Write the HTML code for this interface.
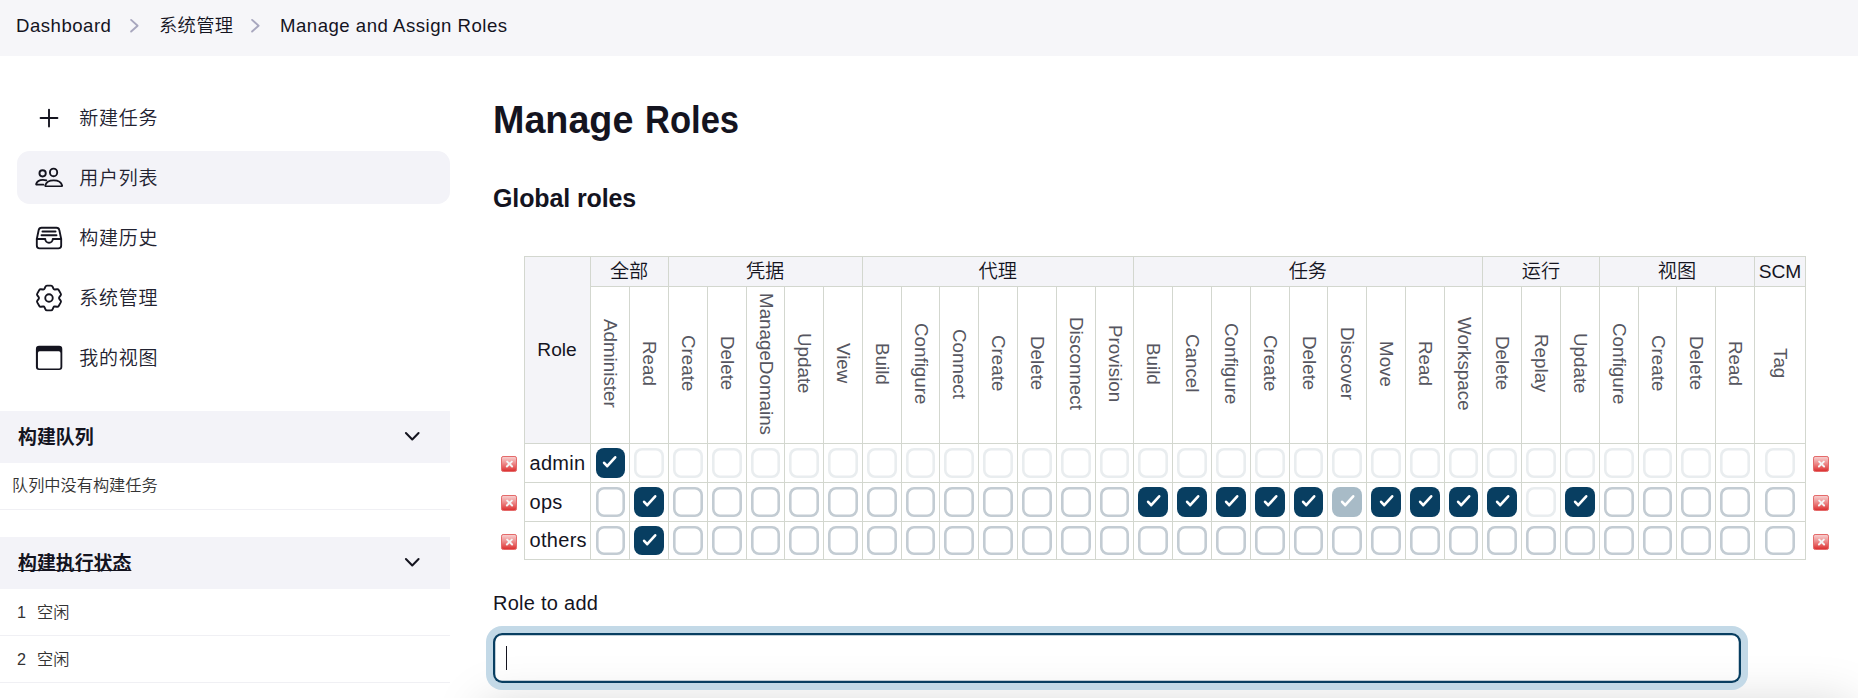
<!DOCTYPE html>
<html lang="zh-CN">
<head>
<meta charset="utf-8">
<title>Manage and Assign Roles</title>
<style>
*{box-sizing:border-box}
html,body{margin:0;padding:0}
body{width:1858px;height:698px;overflow:hidden;background:#fff;color:#14141f;
  font-family:"Liberation Sans","Noto Sans CJK SC",sans-serif;font-size:20px;font-weight:350;position:relative}
a{color:inherit;text-decoration:none}
svg{display:block}
/* breadcrumbs */
#crumbs{position:absolute;left:0;top:0;width:1858px;height:56px;background:#f6f6f9}
#crumbs span{position:absolute;top:0;height:52px;line-height:52px;font-size:18.6px;letter-spacing:.5px;white-space:nowrap;color:#14141f}
#crumbs span.zh{font-size:18.3px;letter-spacing:.3px;line-height:51px}
#crumbs svg{position:absolute;top:16.6px;width:17px;height:17px;stroke:#a8a7be;fill:none;stroke-width:1.9;stroke-linecap:round;stroke-linejoin:round}
/* side panel */
#side{position:absolute;left:0;top:56px;width:470px;height:642px}
.task{position:absolute;left:17px;width:433px;height:53px;border-radius:12.5px}
.task.active{background:#f3f3f8}
.task svg{position:absolute;left:17px;top:12px;width:30px;height:30px;color:#14141f}
.task span{position:absolute;left:62.3px;top:0;height:56px;line-height:55.8px;font-size:19px;letter-spacing:.75px;color:#222230;white-space:nowrap}
.pane-h{position:absolute;left:0;width:450px;height:52px;background:#f3f3f8}
.pane-h span{position:absolute;left:18px;top:0;line-height:54.5px;font-size:18.9px;font-weight:bold;color:#14141f;white-space:nowrap}
.pane-h span.u{text-decoration:underline;text-decoration-thickness:1.2px;text-underline-offset:-0.3px;text-decoration-skip-ink:none}
.pane-h svg{position:absolute;left:400.75px;top:14.4px;width:22.5px;height:22.5px;color:#14141f}
.pane-r{position:absolute;left:0;width:450px;border-bottom:1px solid #f0f0f4;font-size:16.2px;color:#333;white-space:nowrap}
.pane-r span{position:absolute}
/* main */
h1{position:absolute;left:493px;top:94px;margin:0;font-size:38.4px;line-height:52px;font-weight:bold;white-space:nowrap;color:#14141f}
h1 span{display:inline-block;transform-origin:left center}
h1 .w1{transform:scaleX(.982)}
h1 .w2{transform:scaleX(.9);margin-left:-2px}
h2{position:absolute;left:493px;top:180px;margin:0;letter-spacing:-.12px;font-size:25px;line-height:36px;font-weight:bold;white-space:nowrap;color:#14141f}
table.perm{position:absolute;left:494px;top:256px;border-collapse:collapse;table-layout:fixed;width:1342px;font-size:20px;color:#14141f}
table.perm th,table.perm td{border:1px solid #d3d7cf;padding:0;font-weight:350;text-align:center;vertical-align:middle;background:#fff;overflow:hidden}
table.perm .nb{border:none;background:transparent}
table.perm tr.grp{height:30px}
table.perm tr.grp th{background:#f4f4f8;font-size:19.2px;line-height:28px;height:30px}
table.perm th.role{font-size:20px}
table.perm tr.cap{height:157px}
table.perm tr.cap th{height:157px;position:relative}
table.perm tr.cap th span{position:absolute;left:0;top:0;right:0;bottom:3px;writing-mode:vertical-rl;font-size:18.8px;color:#565660;line-height:1;display:flex;align-items:center;justify-content:center;white-space:nowrap}
table.perm tr.r0{height:39px}
table.perm tr.r1{height:39px}
table.perm tr.r2{height:38px}
table.perm td.name{text-align:left;padding-left:5px;font-size:20px;letter-spacing:.3px;white-space:nowrap}
.cb{display:block;margin:0 auto;width:30px;height:30px;border-radius:8px;background:#fff;box-shadow:inset 0 0 0 2.6px #c3ccd3;position:relative}
.cb.n{width:29px}
.cb.f{width:29px;margin-left:5px}
tr.r2 .cb{height:29px}
.cb.f svg{left:-1.5px}
.cb.n svg{left:-.5px}
.cb.on{background:#083e61;box-shadow:none}
.cb.dis{opacity:.35}
.cb svg{position:absolute;left:0;top:0;width:30px;height:30px;fill:none;stroke:#fff;stroke-width:2.6;stroke-linecap:round;stroke-linejoin:round}
.del{display:block;width:16px;height:16px;margin:2.5px 0 0 7px;border-radius:2.2px;border:1px solid #e46a6a;background:linear-gradient(#f7cfcf,#ee8d8d 45%,#dc3232);color:transparent;font-size:1px;position:relative;overflow:hidden}
.del:before,.del:after{content:"";position:absolute;left:2.5px;top:6px;width:9px;height:2.4px;background:#f4f4f4;border-radius:1px;transform:rotate(45deg)}
.del:after{transform:rotate(-45deg)}
#lbl{position:absolute;left:493px;top:590px;letter-spacing:.27px;font-size:20px;line-height:26px;color:#14141f;white-space:nowrap}
#inp{position:absolute;left:493px;top:633px;width:1248px;height:50px;margin:0;padding:0 14px;border:0;outline:0;-webkit-appearance:none;appearance:none;font:inherit;color:inherit;border-radius:9px;background:transparent;box-shadow:inset 0 0 0 2.25px #083e61,0 0 0 7px #c3d9e7}
#caret{position:absolute;left:506px;top:646px;width:1px;height:24px;background:#14141f}
#fade{position:absolute;left:484px;top:704px;width:1368px;height:60px;box-shadow:0 0 50px rgba(0,0,0,.17);pointer-events:none}
</style>
</head>
<body>
<div id="crumbs">
  <span style="left:16px">Dashboard</span>
  <svg style="left:126px" viewBox="0 0 17 17"><path d="M5.100 2.900l6.500 5.800-6.500 5.800"/></svg>
  <span class="zh" style="left:159px">系统管理</span>
  <svg style="left:247px" viewBox="0 0 17 17"><path d="M5.100 2.900l6.500 5.800-6.500 5.800"/></svg>
  <span style="left:280px">Manage and Assign Roles</span>
</div>

<div id="side">
  <a class="task" style="top:35px"><svg viewBox="0 0 512 512"><path fill="none" stroke="currentColor" stroke-linecap="round" stroke-linejoin="round" stroke-width="32" d="M256 112v288M400 256H112"/></svg><span>新建任务</span></a>
  <a class="task active" style="top:95px"><svg viewBox="0 0 512 512"><g fill="none" stroke="currentColor" stroke-width="32" stroke-linecap="round" stroke-linejoin="round"><ellipse cx="334" cy="161" rx="62" ry="65"/><ellipse cx="147" cy="177" rx="54" ry="54"/><path transform="translate(0 295) scale(1 .911) translate(0 -304)" d="M336 304c-65.170 0-127.840 32.370-143.540 95.410-2.080 8.340 3.150 16.590 11.720 16.590h263.650c8.570 0 13.770-8.250 11.720-16.590C463.850 335.360 401.180 304 336 304z"/><path transform="translate(5 286) scale(1 .94) translate(0 -294.500)" d="M206 306c-18.050-8.270-37.930-11.450-59-11.450-52 0-102.100 25.850-114.650 76.200-1.650 6.660 2.530 13.250 9.370 13.250H154"/></g></svg><span>用户列表</span></a>
  <a class="task" style="top:155px"><svg viewBox="0 0 512 512"><path d="M384 80H128c-26 0-43 14-48 40L48 272v112a48.140 48.140 0 0048 48h320a48.140 48.140 0 0048-48V272l-32-152c-5-27-23-40-48-40z" fill="none" stroke="currentColor" stroke-linejoin="round" stroke-width="32"/><path fill="none" stroke="currentColor" stroke-linecap="round" stroke-linejoin="round" stroke-width="32" d="M48 272h144M320 272h144M192 272a64 64 0 00128 0M144 144h224M128 208h256"/></svg><span>构建历史</span></a>
  <a class="task" style="top:215px"><svg viewBox="0 0 512 512"><circle cx="256" cy="256" r="64" fill="none" stroke="currentColor" stroke-width="32"/><path d="M195.5 61.2Q202.5 44.7 220.5 44.7L291.5 44.7Q309.5 44.7 316.5 61.2L331.5 96.5Q338.5 113.1 356.4 110.9L394.4 106.2Q412.3 104.0 421.3 119.6L456.8 181.1Q465.8 196.6 454.9 211.0L431.8 241.6Q421.0 256.0 431.8 270.4L454.9 301.0Q465.8 315.4 456.8 330.9L421.3 392.4Q412.3 408.0 394.4 405.8L356.4 401.1Q338.5 398.9 331.5 415.5L316.5 450.8Q309.5 467.3 291.5 467.3L220.5 467.3Q202.5 467.3 195.5 450.8L180.5 415.5Q173.5 398.9 155.6 401.1L117.6 405.8Q99.7 408.0 90.7 392.4L55.2 330.9Q46.2 315.4 57.1 301.0L80.2 270.4Q91.0 256.0 80.2 241.6L57.1 211.0Q46.2 196.6 55.2 181.1L90.7 119.6Q99.7 104.0 117.6 106.2L155.6 110.9Q173.5 113.1 180.5 96.5Z" fill="none" stroke="currentColor" stroke-linecap="round" stroke-linejoin="round" stroke-width="32"/></svg><span>系统管理</span></a>
  <a class="task" style="top:275px"><svg viewBox="0 0 30 30"><path fill="currentColor" fill-rule="evenodd" d="M5.10 2.80h20.00a3.2 3.2 0 0 1 3.2 3.2v17.80a3.2 3.2 0 0 1 -3.2 3.2h-20.00a3.2 3.2 0 0 1 -3.2 -3.2v-17.80a3.2 3.2 0 0 1 3.2 -3.2zM5.55 8.30h19.30a1.6 1.6 0 0 1 1.6 1.6v14.10a1.6 1.6 0 0 1 -1.6 1.6h-19.30a1.6 1.6 0 0 1 -1.6 -1.6v-14.10a1.6 1.6 0 0 1 1.6 -1.6z"/></svg><span>我的视图</span></a>

  <div class="pane-h" style="top:355px"><span>构建队列</span><svg viewBox="0 0 512 512"><path fill="none" stroke="currentColor" stroke-linecap="round" stroke-linejoin="round" stroke-width="46" d="M112 184l144 144 144-144"/></svg></div>
  <div class="pane-r" style="top:407px;height:47px"><span style="left:12px;top:0;line-height:44.5px">队列中没有构建任务</span></div>
  <div class="pane-h" style="top:481px"><span class="u">构建执行状态</span><svg viewBox="0 0 512 512"><path fill="none" stroke="currentColor" stroke-linecap="round" stroke-linejoin="round" stroke-width="46" d="M112 184l144 144 144-144"/></svg></div>
  <div class="pane-r" style="top:533px;height:47px"><span style="left:17px;top:0;line-height:46px">1</span><span style="left:37px;top:0;line-height:46px">空闲</span></div>
  <div class="pane-r" style="top:580px;height:47px"><span style="left:17px;top:0;line-height:46px">2</span><span style="left:37px;top:0;line-height:46px">空闲</span></div>
</div>

<h1><span class="w1">Manage</span> <span class="w2">Roles</span></h1>
<h2>Global roles</h2>
<table class="perm" cellspacing="0" cellpadding="0">
<colgroup><col style="width:30px"><col style="width:66px"><col style="width:39px"><col style="width:39px"><col style="width:39px"><col style="width:39px"><col style="width:38px"><col style="width:39px"><col style="width:39px"><col style="width:39px"><col style="width:38px"><col style="width:39px"><col style="width:39px"><col style="width:39px"><col style="width:39px"><col style="width:38px"><col style="width:39px"><col style="width:39px"><col style="width:39px"><col style="width:39px"><col style="width:38px"><col style="width:39px"><col style="width:39px"><col style="width:39px"><col style="width:38px"><col style="width:39px"><col style="width:39px"><col style="width:39px"><col style="width:39px"><col style="width:38px"><col style="width:39px"><col style="width:39px"><col style="width:51px"><col style="width:30px"></colgroup>
<thead>
<tr class="grp"><td class="nb" rowspan="2"></td><th class="role" rowspan="2">Role</th><th colspan="2">全部</th><th colspan="5">凭据</th><th colspan="7">代理</th><th colspan="9">任务</th><th colspan="3">运行</th><th colspan="4">视图</th><th colspan="1">SCM</th><td class="nb" rowspan="2"></td></tr>
<tr class="cap"><th><span>Administer</span></th><th><span>Read</span></th><th><span>Create</span></th><th><span>Delete</span></th><th><span>ManageDomains</span></th><th><span>Update</span></th><th><span>View</span></th><th><span>Build</span></th><th><span>Configure</span></th><th><span>Connect</span></th><th><span>Create</span></th><th><span>Delete</span></th><th><span>Disconnect</span></th><th><span>Provision</span></th><th><span>Build</span></th><th><span>Cancel</span></th><th><span>Configure</span></th><th><span>Create</span></th><th><span>Delete</span></th><th><span>Discover</span></th><th><span>Move</span></th><th><span>Read</span></th><th><span>Workspace</span></th><th><span>Delete</span></th><th><span>Replay</span></th><th><span>Update</span></th><th><span>Configure</span></th><th><span>Create</span></th><th><span>Delete</span></th><th><span>Read</span></th><th><span>Tag</span></th></tr>
</thead><tbody>
<tr class="r0"><td class="nb"><b class="del"></b></td><td class="name">admin</td><td><i class="cb on f"><svg viewBox="0 0 30 30"><path d="M10.1 14.8L13.2 18.2 21.2 9.3"/></svg></i></td><td><i class="cb dis"></i></td><td><i class="cb dis"></i></td><td><i class="cb dis"></i></td><td><i class="cb dis n"></i></td><td><i class="cb dis"></i></td><td><i class="cb dis"></i></td><td><i class="cb dis"></i></td><td><i class="cb dis n"></i></td><td><i class="cb dis"></i></td><td><i class="cb dis"></i></td><td><i class="cb dis"></i></td><td><i class="cb dis"></i></td><td><i class="cb dis n"></i></td><td><i class="cb dis"></i></td><td><i class="cb dis"></i></td><td><i class="cb dis"></i></td><td><i class="cb dis"></i></td><td><i class="cb dis n"></i></td><td><i class="cb dis"></i></td><td><i class="cb dis"></i></td><td><i class="cb dis"></i></td><td><i class="cb dis n"></i></td><td><i class="cb dis"></i></td><td><i class="cb dis"></i></td><td><i class="cb dis"></i></td><td><i class="cb dis"></i></td><td><i class="cb dis n"></i></td><td><i class="cb dis"></i></td><td><i class="cb dis"></i></td><td><i class="cb dis"></i></td><td class="nb"><b class="del"></b></td></tr>
<tr class="r1"><td class="nb"><b class="del"></b></td><td class="name">ops</td><td><i class="cb f"></i></td><td><i class="cb on"><svg viewBox="0 0 30 30"><path d="M10.1 14.8L13.2 18.2 21.2 9.3"/></svg></i></td><td><i class="cb"></i></td><td><i class="cb"></i></td><td><i class="cb n"></i></td><td><i class="cb"></i></td><td><i class="cb"></i></td><td><i class="cb"></i></td><td><i class="cb n"></i></td><td><i class="cb"></i></td><td><i class="cb"></i></td><td><i class="cb"></i></td><td><i class="cb"></i></td><td><i class="cb n"></i></td><td><i class="cb on"><svg viewBox="0 0 30 30"><path d="M10.1 14.8L13.2 18.2 21.2 9.3"/></svg></i></td><td><i class="cb on"><svg viewBox="0 0 30 30"><path d="M10.1 14.8L13.2 18.2 21.2 9.3"/></svg></i></td><td><i class="cb on"><svg viewBox="0 0 30 30"><path d="M10.1 14.8L13.2 18.2 21.2 9.3"/></svg></i></td><td><i class="cb on"><svg viewBox="0 0 30 30"><path d="M10.1 14.8L13.2 18.2 21.2 9.3"/></svg></i></td><td><i class="cb on n"><svg viewBox="0 0 30 30"><path d="M10.1 14.8L13.2 18.2 21.2 9.3"/></svg></i></td><td><i class="cb on dis"><svg viewBox="0 0 30 30"><path d="M10.1 14.8L13.2 18.2 21.2 9.3"/></svg></i></td><td><i class="cb on"><svg viewBox="0 0 30 30"><path d="M10.1 14.8L13.2 18.2 21.2 9.3"/></svg></i></td><td><i class="cb on"><svg viewBox="0 0 30 30"><path d="M10.1 14.8L13.2 18.2 21.2 9.3"/></svg></i></td><td><i class="cb on n"><svg viewBox="0 0 30 30"><path d="M10.1 14.8L13.2 18.2 21.2 9.3"/></svg></i></td><td><i class="cb on"><svg viewBox="0 0 30 30"><path d="M10.1 14.8L13.2 18.2 21.2 9.3"/></svg></i></td><td><i class="cb dis"></i></td><td><i class="cb on"><svg viewBox="0 0 30 30"><path d="M10.1 14.8L13.2 18.2 21.2 9.3"/></svg></i></td><td><i class="cb"></i></td><td><i class="cb n"></i></td><td><i class="cb"></i></td><td><i class="cb"></i></td><td><i class="cb"></i></td><td class="nb"><b class="del"></b></td></tr>
<tr class="r2"><td class="nb"><b class="del"></b></td><td class="name">others</td><td><i class="cb f"></i></td><td><i class="cb on"><svg viewBox="0 0 30 30"><path d="M10.1 14.8L13.2 18.2 21.2 9.3"/></svg></i></td><td><i class="cb"></i></td><td><i class="cb"></i></td><td><i class="cb n"></i></td><td><i class="cb"></i></td><td><i class="cb"></i></td><td><i class="cb"></i></td><td><i class="cb n"></i></td><td><i class="cb"></i></td><td><i class="cb"></i></td><td><i class="cb"></i></td><td><i class="cb"></i></td><td><i class="cb n"></i></td><td><i class="cb"></i></td><td><i class="cb"></i></td><td><i class="cb"></i></td><td><i class="cb"></i></td><td><i class="cb n"></i></td><td><i class="cb"></i></td><td><i class="cb"></i></td><td><i class="cb"></i></td><td><i class="cb n"></i></td><td><i class="cb"></i></td><td><i class="cb"></i></td><td><i class="cb"></i></td><td><i class="cb"></i></td><td><i class="cb n"></i></td><td><i class="cb"></i></td><td><i class="cb"></i></td><td><i class="cb"></i></td><td class="nb"><b class="del"></b></td></tr>
</tbody></table>
<label id="lbl" for="inp">Role to add</label>
<div id="fade"></div>
<input id="inp" type="text" name="roleName" value="" autocomplete="off">
<div id="caret"></div>
</body>
</html>
